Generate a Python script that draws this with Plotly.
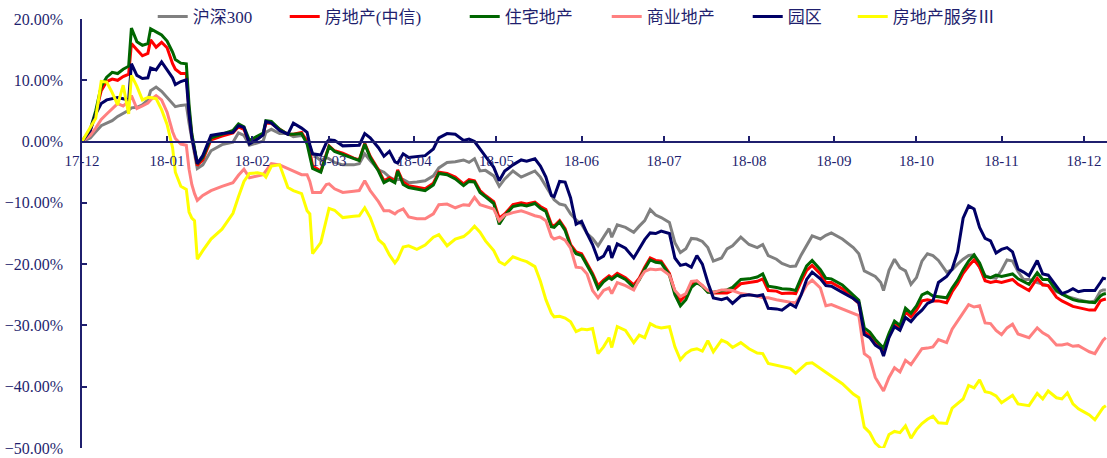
import plotly.graph_objects as go

dates = [
    "2017-12-01", "2017-12-04", "2017-12-06", "2017-12-08", "2017-12-10", "2017-12-12", "2017-12-14",
    "2017-12-16", "2017-12-18", "2017-12-19", "2017-12-21", "2017-12-23", "2017-12-25", "2017-12-26",
    "2017-12-28", "2017-12-30", "2018-01-01", "2018-01-03", "2018-01-04", "2018-01-06", "2018-01-08",
    "2018-01-09", "2018-01-10", "2018-01-11", "2018-01-12", "2018-01-14", "2018-01-17", "2018-01-21",
    "2018-01-25", "2018-01-27", "2018-01-29", "2018-01-31", "2018-02-03", "2018-02-05", "2018-02-06",
    "2018-02-08", "2018-02-11", "2018-02-14", "2018-02-16", "2018-02-19", "2018-02-21", "2018-02-22",
    "2018-02-23", "2018-02-26", "2018-02-28", "2018-03-01", "2018-03-03", "2018-03-06", "2018-03-10",
    "2018-03-12", "2018-03-14", "2018-03-16", "2018-03-19", "2018-03-21", "2018-03-23", "2018-03-25",
    "2018-03-26", "2018-03-28", "2018-03-30", "2018-04-02", "2018-04-05", "2018-04-08", "2018-04-10",
    "2018-04-13", "2018-04-16", "2018-04-19", "2018-04-21", "2018-04-23", "2018-04-25", "2018-04-27",
    "2018-04-30", "2018-05-02", "2018-05-04", "2018-05-07", "2018-05-10", "2018-05-12", "2018-05-15",
    "2018-05-17", "2018-05-19", "2018-05-21", "2018-05-22", "2018-05-24", "2018-05-26", "2018-05-28",
    "2018-05-30", "2018-06-01", "2018-06-03", "2018-06-05", "2018-06-07", "2018-06-09", "2018-06-11",
    "2018-06-12", "2018-06-14", "2018-06-17", "2018-06-20", "2018-06-22", "2018-06-24", "2018-06-26",
    "2018-06-28", "2018-06-30", "2018-07-03", "2018-07-05", "2018-07-07", "2018-07-09", "2018-07-11",
    "2018-07-13", "2018-07-15", "2018-07-17", "2018-07-19", "2018-07-22", "2018-07-24", "2018-07-26",
    "2018-07-29", "2018-08-01", "2018-08-04", "2018-08-06", "2018-08-08", "2018-08-11", "2018-08-13",
    "2018-08-16", "2018-08-18", "2018-08-20", "2018-08-22", "2018-08-24", "2018-08-27", "2018-08-29",
    "2018-08-31", "2018-09-04", "2018-09-08", "2018-09-10", "2018-09-12", "2018-09-14", "2018-09-16",
    "2018-09-18", "2018-09-19", "2018-09-21", "2018-09-23", "2018-09-25", "2018-09-27", "2018-09-29",
    "2018-10-01", "2018-10-03", "2018-10-05", "2018-10-07", "2018-10-09", "2018-10-12", "2018-10-14",
    "2018-10-16", "2018-10-18", "2018-10-20", "2018-10-22", "2018-10-24", "2018-10-26", "2018-10-28",
    "2018-10-30", "2018-11-01", "2018-11-03", "2018-11-05", "2018-11-07", "2018-11-09", "2018-11-11",
    "2018-11-14", "2018-11-16", "2018-11-18", "2018-11-21", "2018-11-23", "2018-11-25", "2018-11-27",
    "2018-11-29", "2018-12-01", "2018-12-03", "2018-12-05", "2018-12-07", "2018-12-08", "2018-12-09",
]

hs300 = [
    0, 0.6, 1.6, 2.6, 3.0, 3.4, 4.1, 4.6, 5.1, 5.5, 5.6, 6.0, 6.8, 8.3, 8.9, 8.2, 7.2, 6.2, 5.7, 5.9, 6.0,
    3.0, 0.2, -2.0, -4.4, -3.8, -1.5, -0.5, -0.1, 1.4, 1.0, -0.6, -0.2, 0.1, 1.5, 2.0, 1.3, 1.3, 0.8, 1.0,
    0.3, -0.8, -2.0, -3.1, -2.6, -2.8, -3.4, -3.8, -3.8, -3.6, -2.0, -3.1, -4.6, -5.0, -5.8, -6.3, -6.2,
    -6.2, -6.7, -6.6, -6.4, -5.6, -4.3, -3.4, -3.3, -3.0, -3.4, -2.8, -4.8, -4.7, -5.6, -7.3, -6.1, -4.8,
    -5.8, -5.4, -4.8, -5.8, -7.3, -8.8, -9.5, -10.2, -10.4, -11.8, -12.8, -13.5, -15.0, -15.8, -17.0,
    -15.6, -14.2, -15.6, -13.6, -14.0, -14.8, -13.8, -12.9, -11.1, -12.0, -12.4, -13.2, -16.5, -18.1,
    -17.5, -15.8, -15.9, -16.3, -17.3, -19.5, -19.0, -17.5, -17.0, -15.6, -16.8, -17.3, -16.8, -18.6,
    -19.2, -19.9, -20.4, -20.3, -18.5, -17.0, -15.4, -15.9, -15.3, -14.9, -15.9, -17.3, -18.3, -21.1,
    -21.5, -22.0, -23.0, -24.3, -21.0, -19.2, -20.6, -21.1, -23.3, -22.2, -19.5, -18.3, -18.6, -19.4,
    -21.3, -20.9, -20.0, -19.2, -18.6, -18.5, -20.5, -21.9, -22.2, -22.3, -21.0, -19.3, -19.5, -21.2,
    -22.5, -22.5, -23.0, -23.2, -23.5, -24.5, -24.8, -25.3, -25.6, -25.8, -26.0, -26.2, -26.0, -24.4,
    -24.2, -24.2,
]

real_estate_citic = [
    0, 1.8, 4.6, 8.3, 9.8, 10.2, 10.0, 10.6, 11.0, 16.0, 15.0, 14.0, 14.4, 16.6, 15.4, 16.2, 15.3, 12.7,
    11.8, 11.1, 11.1, 5.0, 1.0, -1.5, -3.9, -3.0, 0.3, 0.9, 1.4, 2.4, 2.0, -0.1, 0.5, 1.2, 3.0, 3.0, 2.0,
    1.2, 1.2, 1.5, 0.0, -1.5, -4.0, -4.8, -1.8, -0.7, -1.5, -1.9, -2.7, -3.0, -0.3, -2.4, -4.6, -6.4,
    -5.9, -6.4, -4.6, -6.6, -7.2, -7.4, -7.7, -6.8, -5.0, -5.2, -5.8, -6.9, -6.2, -6.4, -8.0, -8.8, -9.8,
    -12.5, -11.8, -10.3, -10.0, -10.2, -9.9, -10.6, -11.1, -13.5, -13.8, -12.9, -14.2, -16.8, -18.0,
    -18.3, -19.8, -21.5, -23.5, -22.6, -21.9, -22.2, -21.5, -22.2, -23.4, -22.3, -20.5, -19.0, -19.4,
    -19.5, -21.5, -24.5, -26.0, -25.0, -23.3, -22.8, -23.5, -24.5, -24.7, -24.7, -24.7, -24.3, -23.2,
    -23.0, -22.8, -22.4, -24.3, -24.4, -24.8, -24.7, -24.8, -22.8, -21.0, -20.2, -21.6, -23.0, -23.0,
    -24.0, -25.5, -26.4, -31.0, -31.7, -32.8, -33.7, -34.2, -31.8, -29.8, -30.5, -27.8, -28.6, -27.5,
    -26.0, -25.8, -26.0, -26.0, -26.3, -24.5, -23.2, -21.5, -20.3, -19.3, -20.5, -22.7, -23.0, -22.8,
    -23.0, -22.8, -22.5, -23.3, -23.8, -24.3, -22.3, -23.4, -23.5, -25.4, -26.0, -26.5, -26.9, -27.1,
    -27.3, -27.5, -27.5, -26.0, -25.8, -25.7,
]

residential = [
    0, 2.0, 5.0, 9.0, 10.5, 11.3, 11.1, 11.8, 12.3, 18.5, 16.3, 15.7, 16.0, 18.4, 17.9, 17.4, 16.4, 14.6,
    13.4, 12.8, 12.7, 6.0, 1.3, -1.0, -3.6, -2.6, 0.6, 1.2, 1.8, 2.9, 2.4, 0.2, 0.9, 1.4, 3.4, 3.3, 2.0,
    1.2, 1.2, 1.3, -0.4, -2.5, -4.4, -5.0, -2.0, -0.8, -1.6, -2.1, -2.8, -3.1, -0.4, -2.6, -4.8, -6.7,
    -6.2, -6.7, -4.8, -7.0, -7.5, -7.7, -8.0, -7.1, -5.2, -5.4, -6.1, -7.2, -6.5, -6.6, -8.3, -9.0, -10.1,
    -13.5, -12.1, -10.6, -10.3, -10.5, -10.1, -10.9, -11.4, -13.9, -14.0, -13.1, -14.5, -17.1, -18.3,
    -18.6, -20.1, -21.8, -24.0, -22.9, -22.2, -22.5, -21.8, -22.5, -23.8, -22.6, -20.8, -19.3, -19.7,
    -19.8, -21.8, -25.0, -26.8, -25.8, -23.8, -23.0, -23.6, -24.6, -24.6, -24.4, -24.2, -23.8, -22.5,
    -22.4, -22.1, -21.6, -23.6, -23.8, -24.0, -24.1, -24.3, -22.2, -20.3, -19.4, -20.9, -22.3, -22.4,
    -23.4, -25.0, -25.9, -30.4, -31.1, -32.3, -33.3, -33.7, -31.3, -29.3, -30.0, -27.2, -28.0, -26.8,
    -25.0, -24.6, -25.2, -25.3, -25.5, -23.9, -22.6, -20.9, -19.5, -18.5, -19.8, -22.0, -22.2, -21.8,
    -22.0, -21.8, -21.6, -22.4, -22.9, -23.3, -21.4, -22.5, -22.5, -24.3, -24.9, -25.4, -25.8, -26.0,
    -26.1, -26.3, -26.3, -25.2, -24.9, -24.8,
]

commercial = [
    0, 1.0, 2.2, 3.6, 4.5, 5.4, 6.2, 5.8, 6.6, 7.5, 5.4, 5.8, 6.3, 6.8, 7.5, 6.8, 4.8, 1.6, 0.5, -0.4,
    -0.6, -4.5, -7.0, -8.5, -9.6, -8.8, -8.0, -7.3, -6.7, -5.5, -4.5, -5.9, -5.6, -5.4, -4.8, -3.6, -3.8,
    -4.4, -4.8, -5.4, -5.4, -6.5, -8.3, -8.3, -7.0, -6.9, -7.7, -8.3, -8.1, -8.0, -6.4, -8.0, -9.8, -11.3,
    -11.3, -11.8, -11.4, -11.0, -12.3, -12.6, -12.6, -11.8, -10.3, -10.2, -10.8, -10.3, -10.4, -9.1,
    -10.3, -10.6, -11.0, -12.9, -12.0, -11.6, -11.3, -11.6, -12.1, -12.3, -12.9, -15.5, -15.9, -15.6,
    -16.1, -17.4, -20.5, -20.6, -21.6, -24.3, -25.5, -24.3, -23.9, -24.8, -23.0, -23.5, -24.2, -22.5,
    -21.2, -20.8, -20.9, -20.8, -21.8, -24.3, -25.3, -24.8, -22.8, -22.7, -23.5, -24.3, -24.6, -24.2,
    -24.2, -24.3, -24.8, -25.0, -25.2, -25.5, -25.5, -25.8, -26.0, -26.2, -26.3, -25.0, -23.4, -22.6,
    -23.9, -26.8, -26.6, -27.3, -28.1, -28.4, -34.6, -35.3, -38.5, -40.0, -40.7, -38.5, -36.9, -37.6,
    -35.7, -36.4, -35.0, -33.8, -33.7, -33.5, -32.3, -32.8, -30.6, -29.2, -28.0, -26.6, -27.0, -26.8,
    -29.6, -29.7, -30.8, -31.5, -30.4, -29.8, -31.4, -31.7, -32.0, -30.4, -31.2, -31.7, -33.2, -33.2,
    -33.0, -33.4, -33.3, -33.8, -34.3, -34.6, -33.0, -32.4, -32.0,
]

industrial_park = [
    0, 1.8, 4.5, 6.2, 6.8, 7.0, 7.2, 7.0, 6.8, 12.7, 10.8, 10.3, 10.4, 12.0, 11.7, 13.0, 11.8, 10.4, 9.3,
    9.8, 10.1, 4.5, 0.7, -1.5, -3.6, -2.3, 1.0, 1.3, 1.5, 2.6, 2.3, -0.4, 0.4, 1.1, 3.3, 3.0, 1.8, 1.2,
    3.0, 2.2, 1.5, -0.5, -2.0, -2.2, -0.2, 0.3, 0.2, -0.7, -0.7, -0.6, 1.3, 0.6, -1.0, -2.4, -1.6, -3.3,
    -3.5, -2.0, -2.6, -2.5, -2.3, -1.2, 0.6, 1.3, 1.2, 0.2, 0.4, 0.0, -1.3, -2.4, -4.2, -6.4, -4.8, -3.8,
    -3.0, -3.2, -2.8, -4.0, -5.8, -8.8, -9.0, -6.5, -6.6, -9.2, -13.5, -13.0, -15.0, -16.8, -19.2, -18.7,
    -17.0, -19.0, -16.7, -17.4, -19.0, -17.5, -16.0, -14.9, -15.0, -14.6, -15.0, -19.0, -20.2, -20.0,
    -20.5, -18.6, -20.0, -23.0, -25.5, -25.8, -25.5, -26.4, -25.2, -25.0, -25.2, -25.0, -27.2, -27.3,
    -27.5, -26.5, -27.0, -25.0, -22.5, -21.3, -22.4, -23.5, -23.6, -24.6, -25.6, -26.3, -31.5, -32.0,
    -33.2, -33.8, -35.0, -32.0, -30.2, -30.8, -28.7, -29.4, -28.3, -27.5, -26.4, -26.0, -23.0, -22.0,
    -20.8, -18.0, -12.5, -10.5, -11.0, -14.0, -15.8, -16.2, -18.2, -17.6, -17.3, -18.0, -20.8, -21.3,
    -21.9, -19.4, -21.6, -21.8, -23.5, -24.8, -24.5, -24.0, -24.5, -24.3, -24.3, -24.3, -23.0, -22.3,
    -22.4,
]

re_services = [
    0, 2.2, 3.8, 9.8, 9.7, 8.0, 6.0, 9.2, 4.5, 10.8, 9.0, 6.8, 7.2, 7.2, 7.0, 5.2, 2.8, -1.0, -5.0, -7.3,
    -7.8, -11.5, -12.5, -12.9, -19.2, -17.8, -15.9, -14.3, -11.7, -9.0, -6.5, -5.2, -5.1, -5.3, -5.8,
    -4.0, -3.8, -7.5, -8.0, -8.5, -11.3, -11.8, -18.3, -16.5, -12.5, -10.9, -11.2, -12.4, -12.2, -12.1,
    -10.8, -12.4, -16.0, -16.8, -18.5, -19.8, -19.2, -17.2, -17.0, -17.6, -16.9, -15.6, -15.2, -17.0,
    -15.9, -15.5, -14.8, -13.8, -14.8, -16.2, -17.8, -19.6, -20.1, -18.8, -19.3, -19.6, -20.4, -22.8,
    -25.8, -28.0, -28.6, -28.5, -28.8, -29.4, -31.0, -30.6, -30.7, -30.5, -34.6, -33.5, -32.0, -33.6,
    -30.2, -30.8, -32.8, -31.6, -32.0, -29.7, -30.2, -30.4, -30.2, -33.5, -35.6, -34.6, -34.0, -33.8,
    -34.2, -32.5, -34.3, -32.4, -32.8, -33.6, -32.8, -33.8, -34.5, -34.6, -36.2, -36.5, -36.8, -37.0,
    -37.8, -37.0, -36.2, -36.1, -37.0, -37.7, -38.3, -39.5, -41.2, -41.8, -46.6, -47.5, -49.2, -50.0,
    -50.0, -47.8, -47.3, -47.5, -46.4, -48.4, -47.0, -46.0, -45.3, -44.8, -45.9, -46.0, -43.5, -42.8,
    -42.0, -39.8, -40.2, -38.9, -40.8, -41.0, -41.5, -42.6, -42.0, -41.4, -42.8, -43.0, -43.1, -41.1,
    -42.0, -40.7, -41.8, -42.0, -41.0, -42.8, -43.6, -44.1, -44.6, -45.4, -44.0, -43.4, -43.1,
]

series_names = ["沪深300", "房地产(中信)", "住宅地产", "商业地产", "园区", "房地产服务Ⅲ"]
series_values = [hs300, real_estate_citic, residential, commercial, industrial_park, re_services]
series_colors = ["#808080", "#FF0000", "#006600", "#FF8080", "#000066", "#FFFF00"]
legend_widths = [87, 135, 97, 96, 60, 115]

AXIS = "#1F1F6E"

fig = go.Figure()
for name, vals, color, lw in zip(series_names, series_values, series_colors, legend_widths):
    fig.add_trace(go.Scatter(
        x=dates, y=vals, mode="lines", name=name,
        line=dict(color=color, width=3), legendwidth=lw,
    ))

fig.update_layout(
    width=1107, height=458,
    margin=dict(l=82, r=0, t=19, b=10, autoexpand=False),
    paper_bgcolor="white", plot_bgcolor="white",
    showlegend=True,
    legend=dict(
        orientation="h", x=0.069, xanchor="left", y=1.005, yanchor="middle",
        font=dict(family="Liberation Serif, Noto Sans CJK SC", size=17, color=AXIS),
        bgcolor="rgba(0,0,0,0)", borderwidth=0,
    ),
    xaxis=dict(
        type="date", range=["2017-12-01", "2018-12-09 10:00"],
        tick0="2017-12-01", dtick="M1", tickformat="%y-%m",
        ticks="inside", ticklen=5, tickcolor=AXIS, tickwidth=1.5,
        showline=True, linecolor=AXIS, linewidth=1.5,
        anchor="free", position=50 / 70,
        showgrid=False, zeroline=False,
        tickfont=dict(family="Liberation Serif", size=15, color=AXIS),
        ticklabelstandoff=6,
    ),
    yaxis=dict(
        range=[-50, 20], dtick=10, tick0=0,
        tickformat=".2f", ticksuffix="%",
        ticks="inside", ticklen=5, tickcolor=AXIS, tickwidth=1.5,
        showline=True, linecolor=AXIS, linewidth=1.5,
        showgrid=False, zeroline=False,
        tickfont=dict(family="Liberation Serif", size=16, color=AXIS),
        ticklabelstandoff=14,
    ),
)

fig.write_html("out.html")
